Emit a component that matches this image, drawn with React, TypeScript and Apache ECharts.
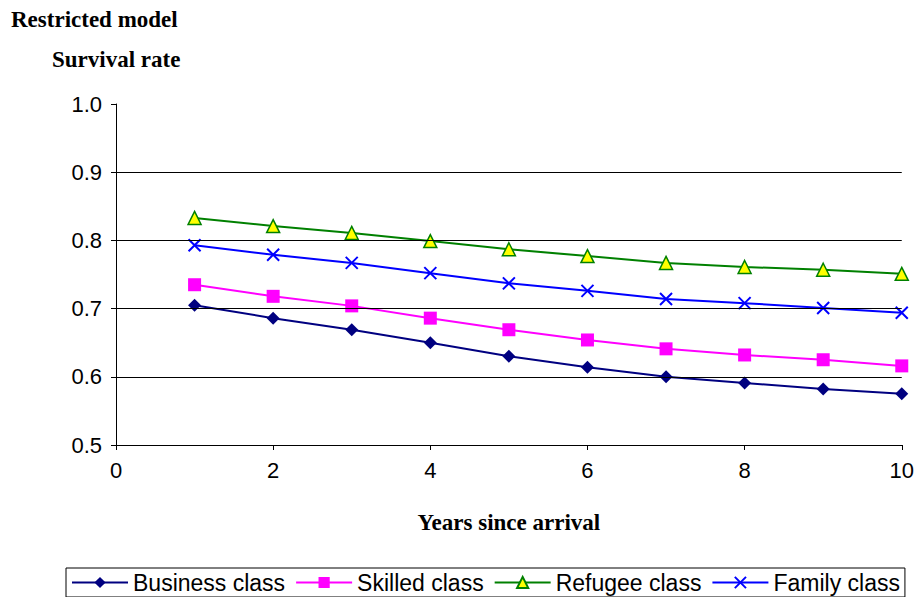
import { useEffect, useRef } from "react";
import * as echarts from "echarts";

const years = [1, 2, 3, 4, 5, 6, 7, 8, 9, 10];
const business = [0.705, 0.686, 0.669, 0.65, 0.63, 0.614, 0.6, 0.591, 0.582, 0.575];
const skilled = [0.735, 0.718, 0.704, 0.686, 0.669, 0.654, 0.641, 0.632, 0.625, 0.616];
const refugee = [0.833, 0.821, 0.811, 0.799, 0.787, 0.777, 0.767, 0.761, 0.757, 0.751];
const family = [0.793, 0.779, 0.767, 0.752, 0.737, 0.726, 0.714, 0.708, 0.701, 0.694];
const gridLines = [0.6, 0.7, 0.8, 0.9];

const pair = (v: number[]) => years.map((x, i) => [x, v[i]]);

const App = () => {
  const chartRef = useRef<HTMLDivElement>(null);

  useEffect(() => {
    if (!chartRef.current) return;
    const chart = echarts.init(chartRef.current, null, { renderer: "svg" });
    const font = "Liberation Sans, Arial, sans-serif";
    const serif = { fontFamily: "Liberation Serif, serif", fontSize: 23, fontWeight: "bold", color: "#000" };
    chart.setOption({
      animation: false,
      textStyle: { fontFamily: font },
      title: [
        { text: "Restricted model", left: 6, top: 3, textStyle: serif },
        { text: "Survival rate", left: 47, top: 43, textStyle: serif },
      ],
      grid: { left: 116, right: 14, top: 104, bottom: 152 },
      xAxis: {
        type: "value",
        min: 0,
        max: 10,
        interval: 2,
        name: "Years since arrival",
        nameLocation: "middle",
        nameGap: 66,
        nameTextStyle: serif,
        axisLine: { lineStyle: { color: "#000" } },
        axisTick: { show: true, lineStyle: { color: "#000" } },
        axisLabel: { color: "#000", fontSize: 22, margin: 14 },
        splitLine: { show: false },
      },
      yAxis: {
        type: "value",
        min: 0.5,
        max: 1.0,
        interval: 0.1,
        axisLine: { show: true, lineStyle: { color: "#000" } },
        axisTick: { show: true, lineStyle: { color: "#000" } },
        axisLabel: { color: "#000", fontSize: 22, margin: 14, formatter: (v: number) => v.toFixed(1) },
        splitLine: { show: false },
      },
      legend: {
        bottom: 0,
        left: 66,
        width: 850,
        itemGap: 10,
        itemWidth: 56,
        itemHeight: 14,
        borderColor: "#000",
        borderWidth: 1,
        padding: [3, 5],
        textStyle: { color: "#000", fontSize: 23, fontFamily: font },
        data: ["Business class", "Skilled class", "Refugee class", "Family class"],
      },
      series: [
        {
          name: "Business class",
          type: "line",
          data: pair(business),
          symbol: "diamond",
          symbolSize: 13,
          lineStyle: { color: "#000080", width: 2 },
          itemStyle: { color: "#000080" },
          markLine: {
            silent: true,
            symbol: "none",
            label: { show: false },
            lineStyle: { color: "#000", type: "solid", width: 1 },
            data: gridLines.map((v) => ({ yAxis: v })),
          },
          z: 3,
        },
        {
          name: "Skilled class",
          type: "line",
          data: pair(skilled),
          symbol: "rect",
          symbolSize: 13,
          lineStyle: { color: "#FF00FF", width: 2 },
          itemStyle: { color: "#FF00FF" },
        },
        {
          name: "Refugee class",
          type: "line",
          data: pair(refugee),
          symbol: "triangle",
          symbolSize: 13,
          lineStyle: { color: "#008000", width: 2 },
          itemStyle: { color: "#FFFF00", borderColor: "#008000", borderWidth: 1.5 },
        },
        {
          name: "Family class",
          type: "line",
          data: pair(family),
          symbol: "path://M0,0L10,10M10,0L0,10",
          symbolSize: 12,
          lineStyle: { color: "#0000FF", width: 2 },
          itemStyle: { color: "none", borderColor: "#0000FF", borderWidth: 2 },
        },
      ],
    });
    return () => chart.dispose();
  }, []);

  return <div ref={chartRef} style={{ width: 917, height: 597, position: "absolute", left: 0, top: 0 }} />;
};

export default App;
